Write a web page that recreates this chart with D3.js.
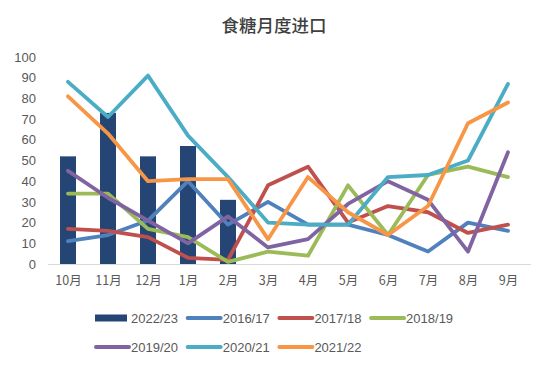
<!DOCTYPE html>
<html><head><meta charset="utf-8">
<script src="https://cdn.jsdelivr.net/npm/d3@7"></script>
<style>body{margin:0;background:#fff}svg{display:block}</style>
</head><body>
<script>
const title = "食糖月度进口";
const months = ["10月","11月","12月","1月","2月","3月","4月","5月","6月","7月","8月","9月"];
const yTicks = [0,10,20,30,40,50,60,70,80,90,100];
const barName = "2022/23";
const barValues = [52,73,52,57,31];
const lineNames = ["2016/17","2017/18","2018/19","2019/20","2020/21","2021/22"];
const s2016 = [11,14,21,40,19,30,19,19,14,6,20,16];
const s2017 = [17,16,13,3,2,38,47,20,28,25,15,19];
const s2018 = [34,34,17,13,1,6,4,38,14,43,47,42];
const s2019 = [45,32,21,10,23,8,12,29,40,31,6,54];
const s2020 = [88,71,91,62,42,20,19,19,42,43,50,87];
const s2021 = [81,63,40,41,41,12,42,25,14,28,68,78];
const lineSeries = [s2016,s2017,s2018,s2019,s2020,s2021];
const lineColors = ["#4f81bd","#c0504d","#9bbb59","#8064a2","#4bacc6","#f79646"];
const barColor = "#254674";

const W=550,H=369;
const svg=d3.select("body").append("svg").attr("width",W).attr("height",H);
const font="'Noto Sans CJK SC','Noto Sans',sans-serif";
const xc=d3.scalePoint().domain(months).range([68,508]);
const y=d3.scaleLinear().domain([0,100]).range([264,57]);

svg.append("text").attr("x",274).attr("y",31.5).attr("text-anchor","middle")
  .attr("font-family",font).attr("font-size",17.5).attr("font-weight","500").attr("fill","#404040").text(title);

const ya=svg.append("g").attr("transform","translate(36,0)")
  .call(d3.axisLeft(y).tickValues(yTicks).tickSize(0).tickPadding(0));
ya.select(".domain").remove();
ya.selectAll("text").attr("font-family","'Liberation Sans',Arial,sans-serif").attr("font-size",13).attr("fill","#595959");

svg.append("line").attr("x1",48).attr("x2",531).attr("y1",264.5).attr("y2",264.5).attr("stroke","#d9d9d9").attr("stroke-width",1);

const xa=svg.append("g").attr("transform","translate(0,264)")
  .call(d3.axisBottom(xc).tickSize(0).tickPadding(12));
xa.select(".domain").remove();
xa.selectAll("text").attr("font-family",font).attr("font-size",12.5).attr("fill","#595959");

const bw=16;
svg.append("g").selectAll("rect").data(barValues).join("rect")
  .attr("x",(d,i)=>xc(months[i])-bw/2).attr("width",bw)
  .attr("y",d=>y(d)).attr("height",d=>y(0)-y(d)).attr("fill",barColor);

const line=d3.line().x((d,i)=>xc(months[i])).y(d=>y(d));
svg.append("g").selectAll("path").data(lineSeries).join("path")
  .attr("d",line).attr("fill","none").attr("stroke",(d,i)=>lineColors[i])
  .attr("stroke-width",3.8).attr("stroke-linejoin","round").attr("stroke-linecap","round");

// legend
const items=[{name:barName,type:"bar",color:barColor}].concat(lineNames.map((n,i)=>({name:n,type:"line",color:lineColors[i]})));
const lg=svg.append("g");
items.forEach((it,k)=>{
  const row=k<4?0:1, col=k<4?k:k-4;
  const x0=95+col*91.7, yy=row===0?318:347;
  const g=lg.append("g");
  if(it.type==="bar") g.append("rect").attr("x",x0).attr("y",yy-3.5).attr("width",32).attr("height",7).attr("fill",it.color);
  else g.append("line").attr("x1",x0+1).attr("x2",x0+34).attr("y1",yy).attr("y2",yy).attr("stroke",it.color).attr("stroke-width",4).attr("stroke-linecap","round");
  g.append("text").attr("x",x0+36).attr("y",yy).attr("dy","0.35em").attr("font-family","'Liberation Sans',Arial,sans-serif").attr("font-size",13).attr("fill","#595959").text(it.name);
});
</script>
</body></html>
